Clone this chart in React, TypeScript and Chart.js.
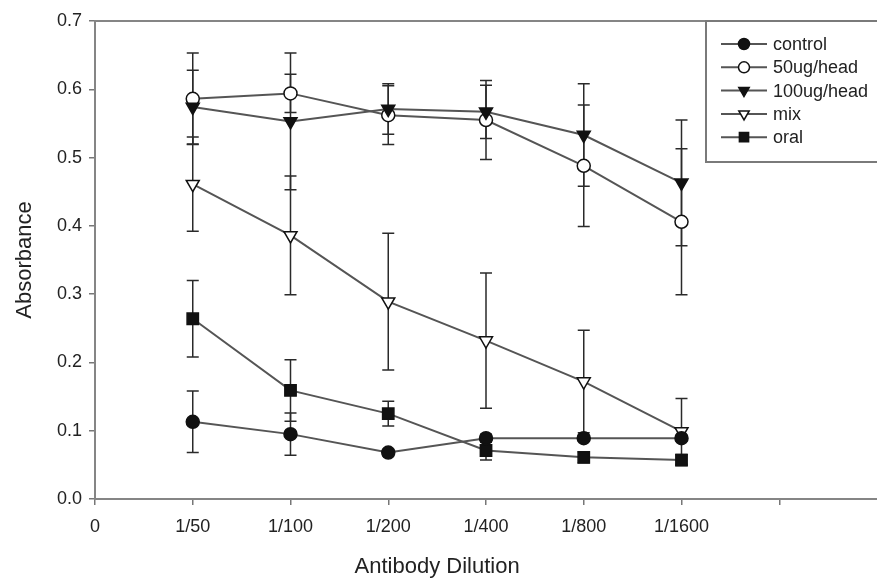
import React, { useEffect, useRef } from 'react';
import { Chart, registerables } from 'chart.js';
import { drawPoint } from 'chart.js/helpers';

Chart.register(...registerables);

// ---- data ----
const categories = ['0', '1/50', '1/100', '1/200', '1/400', '1/800', '1/1600', ''];
const dilutionIndex = [1, 2, 3, 4, 5, 6];
const seriesNames = ['control', '50ug/head', '100ug/head', 'mix', 'oral'];

const control = [0.113, 0.095, 0.068, 0.089, 0.089, 0.089];
const controlErr = [0.045, 0.031, 0.005, 0.006, 0.004, 0.004];
const ug50 = [0.586, 0.594, 0.562, 0.555, 0.488, 0.406];
const ug50Err = [0.067, 0.028, 0.043, 0.058, 0.089, 0.107];
const ug100 = [0.574, 0.553, 0.571, 0.567, 0.533, 0.463];
const ug100Err = [0.054, 0.1, 0.037, 0.039, 0.075, 0.092];
const mix = [0.461, 0.386, 0.289, 0.232, 0.172, 0.099];
const mixErr = [0.069, 0.087, 0.1, 0.099, 0.075, 0.048];
const oral = [0.264, 0.159, 0.125, 0.071, 0.061, 0.057];
const oralErr = [0.056, 0.045, 0.018, 0.014, 0.008, 0.008];

const yMin = 0;
const yMax = 0.7;
const yStep = 0.1;
const xTitle = 'Antibody Dilution';
const yTitle = 'Absorbance';

const FONT = '"Liberation Sans", Arial, Helvetica, sans-serif';
const LINE = '#555';
const TEXT = '#222';
const AXIS = '#858585';

const styles = [
  { pointStyle: 'circle', fill: '#111', radius: 6.5, legendRadius: 5.5, rotation: 0 },
  { pointStyle: 'circle', fill: '#fff', radius: 6.5, legendRadius: 5.5, rotation: 0 },
  { pointStyle: 'triangle', fill: '#111', radius: 7.5, legendRadius: 6, rotation: 180 },
  { pointStyle: 'triangle', fill: '#fff', radius: 7.5, legendRadius: 6, rotation: 180 },
  { pointStyle: 'rect', fill: '#111', radius: 8, legendRadius: 6.5, rotation: 0 },
];
const values = [control, ug50, ug100, mix, oral];
const errors = [controlErr, ug50Err, ug100Err, mixErr, oralErr];
const drawOrder = [0, 2, 1, 3, 4];

const errorBarPlugin = {
  id: 'errorBars',
  beforeDatasetsDraw(chart: any) {
    const { ctx, scales } = chart;
    const x = scales.x;
    const y = scales.y;
    ctx.save();
    ctx.strokeStyle = '#2a2a2a';
    ctx.lineWidth = 1.5;
    chart.data.datasets.forEach((ds: any) => {
      ds.data.forEach((p: any, i: number) => {
        const e = ds.errors[i];
        const px = x.getPixelForValue(p.x);
        const top = y.getPixelForValue(p.y + e);
        const bot = y.getPixelForValue(p.y - e);
        ctx.beginPath();
        ctx.moveTo(px, top);
        ctx.lineTo(px, bot);
        ctx.moveTo(px - 6, top);
        ctx.lineTo(px + 6, top);
        ctx.moveTo(px - 6, bot);
        ctx.lineTo(px + 6, bot);
        ctx.stroke();
      });
    });
    ctx.restore();
  },
};

const framePlugin = {
  id: 'frameAndLegend',
  afterDraw(chart: any) {
    const { ctx, chartArea, scales } = chart;
    ctx.save();
    // top frame line
    ctx.strokeStyle = AXIS;
    ctx.lineWidth = 2;
    ctx.beginPath();
    ctx.moveTo(chartArea.left, chartArea.top);
    ctx.lineTo(chart.width + 2, chartArea.top);
    ctx.stroke();

    // legend box
    const bx = 706;
    const by = chartArea.top;
    const bh = 141;
    ctx.fillStyle = '#fff';
    ctx.fillRect(bx, by, chart.width - bx + 5, bh);
    ctx.strokeStyle = '#7a7a7a';
    ctx.lineWidth = 2;
    ctx.strokeRect(bx, by, chart.width - bx + 10, bh);

    seriesNames.forEach((name, i) => {
      const cy = by + 23 + i * 23.3;
      ctx.strokeStyle = LINE;
      ctx.lineWidth = 2;
      ctx.beginPath();
      ctx.moveTo(721, cy);
      ctx.lineTo(767, cy);
      ctx.stroke();
      const s = styles[i];
      ctx.fillStyle = s.fill;
      ctx.strokeStyle = '#111';
      ctx.lineWidth = 1.5;
      drawPoint(ctx, { pointStyle: s.pointStyle, rotation: s.rotation, radius: s.legendRadius, borderWidth: 1.5 } as any, 744, cy);
      ctx.fillStyle = TEXT;
      ctx.font = '18px ' + FONT;
      ctx.textAlign = 'left';
      ctx.textBaseline = 'middle';
      ctx.fillText(name, 773, cy + 1);
    });

    // x axis title, centred on the labelled range
    const x = scales.x;
    const mid = (x.getPixelForValue(0) + x.getPixelForValue(categories.length - 1)) / 2;
    ctx.fillStyle = TEXT;
    ctx.font = '22px ' + FONT;
    ctx.textAlign = 'center';
    ctx.textBaseline = 'middle';
    ctx.fillText(xTitle, mid, chart.height - 14);
    ctx.restore();
  },
};

export default function App() {
  const ref = useRef<HTMLCanvasElement>(null);
  useEffect(() => {
    if (!ref.current) return;
    const datasets = drawOrder.map((k) => ({
      label: seriesNames[k],
      data: dilutionIndex.map((xv, i) => ({ x: xv, y: values[k][i] })),
      errors: errors[k],
      borderColor: LINE,
      borderWidth: 2,
      backgroundColor: styles[k].fill,
      pointBackgroundColor: styles[k].fill,
      pointBorderColor: '#111',
      pointBorderWidth: 1.5,
      pointStyle: styles[k].pointStyle,
      pointRotation: styles[k].rotation,
      pointRadius: styles[k].radius,
      tension: 0,
      fill: false,
    }));
    const chart = new Chart(ref.current, {
      type: 'line',
      data: { datasets } as any,
      options: {
        animation: false,
        responsive: false,
        devicePixelRatio: 1,
        layout: { autoPadding: false, padding: { top: 21, left: 0, right: 0, bottom: 0 } },
        plugins: { legend: { display: false }, tooltip: { enabled: false } },
        scales: {
          x: {
            type: 'linear',
            min: 0,
            max: categories.length,
            afterBuildTicks: (scale: any) => {
              scale.ticks = categories.map((_, i) => ({ value: i }));
            },
            afterFit: (scale: any) => {
              scale.height = 82;
              scale.paddingRight = 0;
              scale.paddingLeft = 0;
            },
            grid: { display: true, drawOnChartArea: false, drawTicks: true, tickLength: 6, color: '#777', lineWidth: 1.5 },
            border: { display: true, color: AXIS, width: 2 },
            ticks: {
              autoSkip: false,
              maxRotation: 0,
              padding: 11,
              color: TEXT,
              font: { family: FONT, size: 18 },
              callback: (v: any) => categories[Math.round(Number(v))] ?? '',
            },
          },
          y: {
            type: 'linear',
            min: yMin,
            max: yMax,
            afterFit: (scale: any) => {
              scale.width = 95;
            },
            grid: { display: true, drawOnChartArea: false, drawTicks: true, tickLength: 6, color: '#777', lineWidth: 1.5 },
            border: { display: true, color: AXIS, width: 2 },
            title: { display: true, text: yTitle, color: TEXT, font: { family: FONT, size: 22 }, padding: { top: 12, bottom: 0 } },
            ticks: {
              stepSize: yStep,
              padding: 7,
              color: TEXT,
              font: { family: FONT, size: 18 },
              callback: (v: any) => Number(v).toFixed(1),
            },
          },
        },
      } as any,
      plugins: [errorBarPlugin, framePlugin],
    });
    return () => chart.destroy();
  }, []);
  return (
    <div style={{ position: 'fixed', left: 0, top: 0, width: 877, height: 581, background: '#fff' }}>
      <canvas ref={ref} width={877} height={581} style={{ display: 'block' }} />
    </div>
  );
}
